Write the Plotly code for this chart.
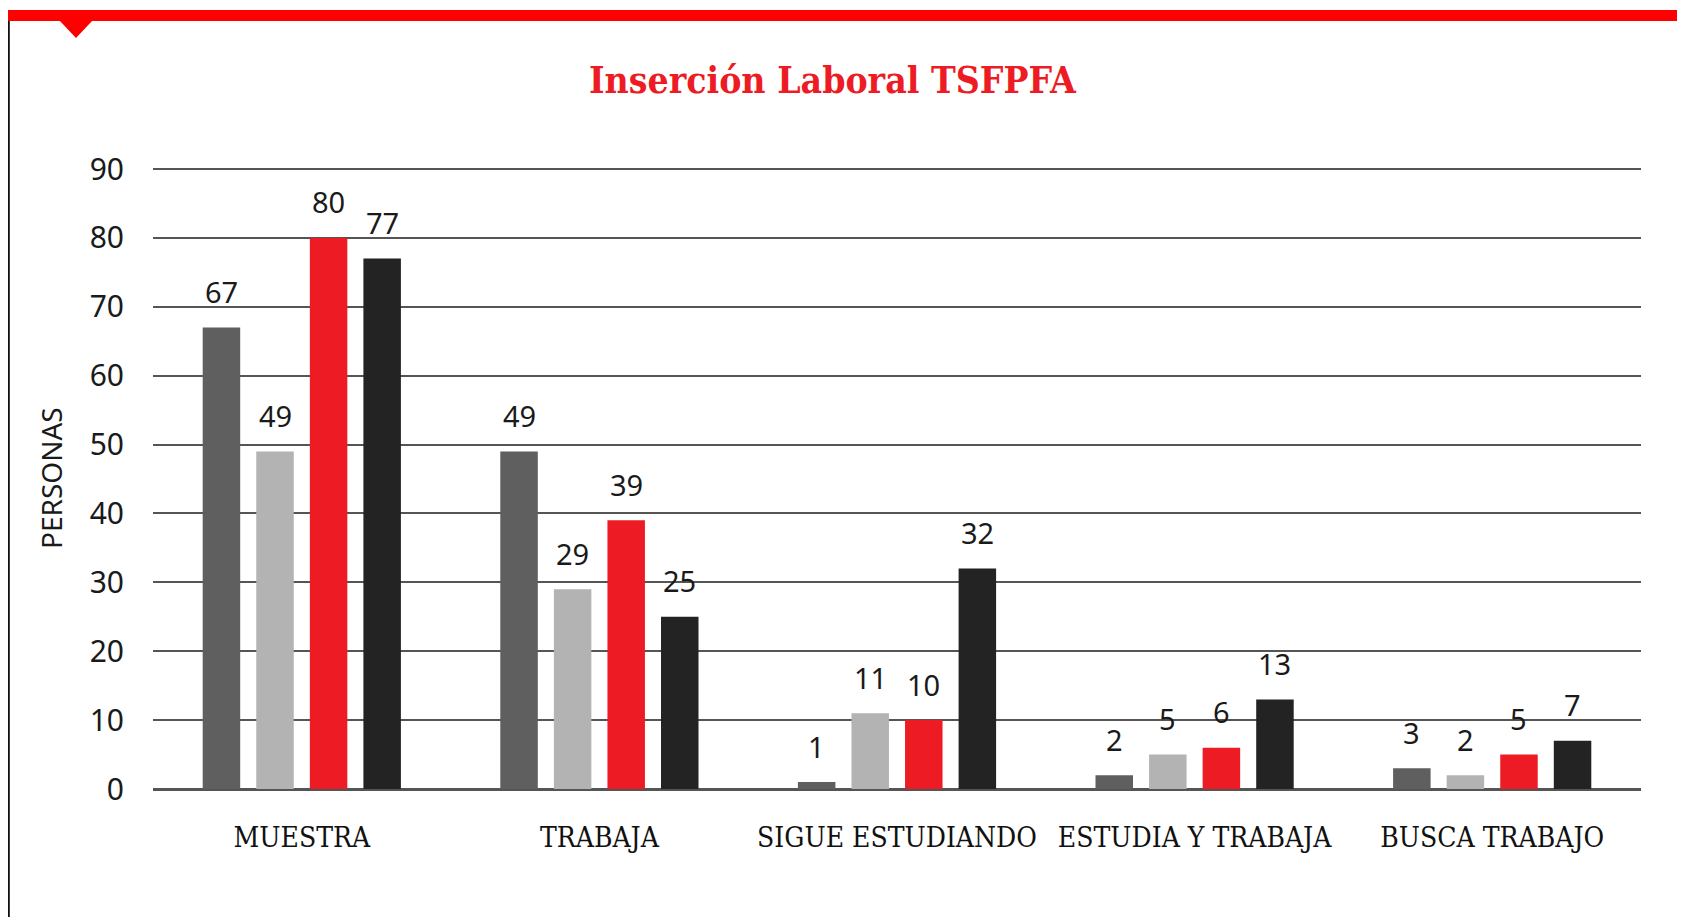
import plotly.graph_objects as go

categories = ["MUESTRA", "TRABAJA", "SIGUE ESTUDIANDO", "ESTUDIA Y TRABAJA", "BUSCA TRABAJO"]
series_names = ["Serie 1", "Serie 2", "Serie 3", "Serie 4"]
serie_1 = [67, 49, 1, 2, 3]
serie_2 = [49, 29, 11, 5, 2]
serie_3 = [80, 39, 10, 6, 5]
serie_4 = [77, 25, 32, 13, 7]
y_ticks = [0, 10, 20, 30, 40, 50, 60, 70, 80, 90]

series = [serie_1, serie_2, serie_3, serie_4]
colors = ["#5f5f5f", "#b3b3b3", "#ed1c24", "#232323"]

# page has an 8px body margin; figure sized to fit the 1685x917 window
OFF = 8
W, H = 1685 - OFF, 917 - OFF
ML, MR, MT, MB = 145, 44, 159, 128
PW, PH = W - ML - MR, H - MT - MB
BARGAP, GROUPGAP = 0.28, 0.3

fig = go.Figure()
for name, vals, col in zip(series_names, series, colors):
    fig.add_trace(go.Bar(x=categories, y=vals, name=name, marker_color=col,
                         marker_line_width=0, hoverinfo="x+y"))

# value labels above bars
n = len(series)
slot = (1 - BARGAP) / n
annotations = []
for k, vals in enumerate(series):
    off = -(1 - BARGAP) / 2 + slot * (k + 0.5)
    for i, v in enumerate(vals):
        annotations.append(dict(x=i + off, y=v, xref="x", yref="y", text=str(v),
                                showarrow=False, yshift=36, yanchor="middle",
                                font=dict(family="Noto Sans", size=29, color="#1a1a1a")))

# convert reference-page pixel coords to paper coords
def fx(px):
    return (px - OFF - ML) / PW

def fy(py):
    return (H - MB - (py - OFF)) / PH

shapes = [
    dict(type="rect", xref="paper", yref="paper", x0=fx(7), x1=fx(1685), y0=fy(21), y1=fy(10),
         fillcolor="#ff0000", line_width=0, layer="above"),
    dict(type="path", xref="paper", yref="paper",
         path=f"M {fx(59)} {fy(20)} L {fx(93)} {fy(20)} L {fx(76)} {fy(38)} Z",
         fillcolor="#ff0000", line_width=0, layer="above"),
    dict(type="line", xref="paper", yref="paper", x0=fx(8.8), x1=fx(8.8), y0=fy(21), y1=fy(930),
         line=dict(color="#111111", width=2), layer="above"),
    dict(type="line", xref="paper", yref="paper", x0=fx(1683), x1=fx(1683), y0=fy(21), y1=fy(930),
         line=dict(color="#555555", width=3), layer="above"),
]

annotations.append(dict(x=fx(833), y=fy(80), xref="paper", yref="paper",
                        text="<b>Inserción Laboral TSFPFA</b>", showarrow=False,
                        xanchor="center", yanchor="middle",
                        font=dict(family="DejaVu Serif Condensed", size=37, color="#ed1c24")))
annotations.append(dict(x=fx(51), y=fy(478), xref="paper", yref="paper",
                        text="PERSONAS", showarrow=False, textangle=-90,
                        xanchor="center", yanchor="middle",
                        font=dict(family="Noto Sans", size=28, color="#1a1a1a")))

fig.update_layout(
    width=W, height=H,
    margin=dict(l=ML, r=MR, t=MT, b=MB, pad=0),
    paper_bgcolor="white", plot_bgcolor="white",
    barmode="group", bargap=BARGAP, bargroupgap=GROUPGAP,
    showlegend=False,
    shapes=shapes, annotations=annotations,
    xaxis=dict(showgrid=False, showline=True, linecolor="#555555", linewidth=2,
               ticks="", ticklabelstandoff=22,
               tickfont=dict(family="DejaVu Serif Condensed", size=28, color="#111111")),
    yaxis=dict(range=[0, 90.3], tickvals=y_ticks, showgrid=True, gridcolor="#555555",
               gridwidth=1.6, zeroline=True, zerolinecolor="#555555", zerolinewidth=2,
               ticks="", ticklabelstandoff=28,
               tickfont=dict(family="Noto Sans", size=30, color="#1a1a1a")),
)

fig.write_html("out.html")
